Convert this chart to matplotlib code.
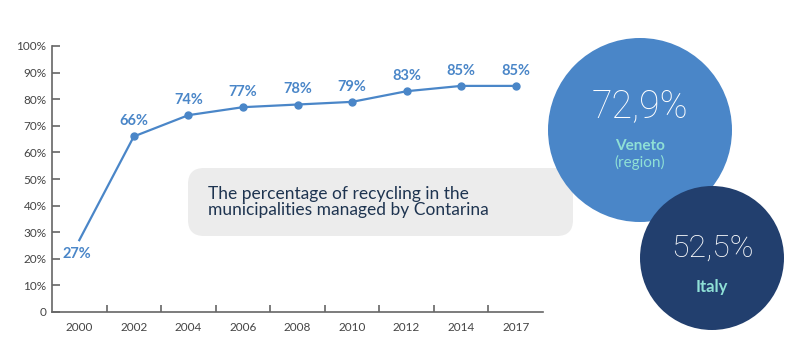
import matplotlib.pyplot as plt
from matplotlib.patches import FancyBboxPatch, Circle

years = ['2000', '2002', '2004', '2006', '2008', '2010', '2012', '2014', '2017']
recycling = [27, 66, 74, 77, 78, 79, 83, 85, 85]
yticks = [0, 10, 20, 30, 40, 50, 60, 70, 80, 90, 100]
ylabels = ['0'] + [f'{v}%' for v in yticks[1:]]

plt.rcParams['font.family'] = ['Lato', 'DejaVu Sans']

line_col = '#4a86c8'
navy = '#223f6e'
teal = '#8fe0d6'

fig = plt.figure(figsize=(8, 3.64), dpi=100)

# background layer in pixel coordinates for the box and the circles
bg = fig.add_axes([0, 0, 1, 1], zorder=0)
bg.set_xlim(0, 800)
bg.set_ylim(364, 0)
bg.axis('off')
bg.add_patch(FancyBboxPatch((188, 168), 385, 68, boxstyle='round,pad=0,rounding_size=16',
                            fc='#ececec', ec='none'))
bg.text(208, 202, 'The percentage of recycling in the\nmunicipalities managed by Contarina',
        fontsize=12.5, color='#1e3450', va='center', ha='left', linespacing=1.05)
bg.add_patch(Circle((640, 130), 92, fc='#4a86c8', ec='none'))
bg.add_patch(Circle((712, 258), 72, fc=navy, ec='none'))
bg.text(640, 106, '72,9%', fontsize=27, color='white', ha='center', va='center',
        family=['Roboto', 'DejaVu Sans'], fontweight='light')
bg.text(640, 146, 'Veneto', fontsize=11, color=teal, ha='center', va='center', fontweight='bold')
bg.text(640, 162, '(region)', fontsize=11, color=teal, ha='center', va='center')
bg.text(712, 248, '52,5%', fontsize=23, color='white', ha='center', va='center',
        family=['Roboto', 'DejaVu Sans'], fontweight='light')
bg.text(712, 287, 'Italy', fontsize=12, color=teal, ha='center', va='center', fontweight='bold')

ax = fig.add_axes([52 / 800, 1 - 312 / 364, 491 / 800, 266 / 364], zorder=1)
ax.patch.set_alpha(0)
x = list(range(len(years)))
ax.plot(x, recycling, color=line_col, lw=1.6)
ax.plot(x[1:], recycling[1:], 'o', color=line_col, ms=5)
for i, v in enumerate(recycling):
    if i == 0:
        ax.annotate(f'{v}%', (i, v), xytext=(-2, -10), textcoords='offset points',
                    ha='center', va='center', color=line_col, fontweight='bold', fontsize=10.5)
    else:
        ax.annotate(f'{v}%', (i, v), xytext=(0, 11), textcoords='offset points',
                    ha='center', va='center', color=line_col, fontweight='bold', fontsize=10.5)

ax.set_xlim(-0.5, len(years) - 0.5)
ax.set_ylim(0, 100)
ax.set_yticks(yticks)
ax.set_yticklabels(ylabels)
ax.set_xticks(x)
ax.set_xticklabels(years)
ax.set_xticks([i + 0.5 for i in range(len(years) - 1)], minor=True)
ax.tick_params(axis='x', which='major', length=0, pad=7, labelsize=8.5, labelcolor='#444')
ax.tick_params(axis='x', which='minor', direction='in', length=5, width=1.2, color='#666')
ax.tick_params(axis='y', direction='in', length=6, width=1.2, color='#666', pad=4,
               labelsize=8.5, labelcolor='#444')
for s in ['top', 'right']:
    ax.spines[s].set_visible(False)
for s in ['left', 'bottom']:
    ax.spines[s].set_color('#666')
    ax.spines[s].set_linewidth(1.2)

fig.savefig('out.png', dpi=100)
